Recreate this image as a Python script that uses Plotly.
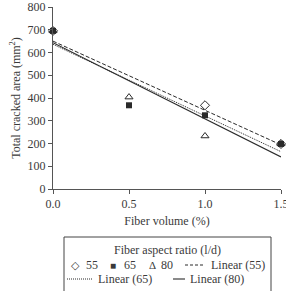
import plotly.graph_objects as go

# Data
fiber_volume = [0.0, 0.5, 1.0, 1.5]
area_55 = [695, None, 368, 198]
area_65 = [695, 368, 324, 198]
area_80 = [695, 404, 233, 198]
# trend-line values at x = 0 and x = 1.5
trend_x = [0.0, 1.5]
lin_55 = [650, 194]
lin_65 = [636, 164]
lin_80 = [643, 141]

FONT = "Liberation Serif, Times New Roman, serif"
TXT = "#3a3a3a"
INK = "#2a2a2a"

W, H = 286, 291
L, R, T, B = 53, 5, 7, 102
PW, PH = W - L - R, H - T - B

def px(x):
    return (x - L) / PW

def py(y):
    return (H - B - y) / PH

fig = go.Figure()
fig.add_trace(go.Scatter(x=trend_x, y=lin_55, mode="lines",
                         line=dict(color=INK, width=1, dash="4px,2px")))
fig.add_trace(go.Scatter(x=trend_x, y=lin_65, mode="lines",
                         line=dict(color=INK, width=1, dash="1px,1px")))
fig.add_trace(go.Scatter(x=trend_x, y=lin_80, mode="lines",
                         line=dict(color=INK, width=1.1)))
fig.add_trace(go.Scatter(x=fiber_volume, y=area_80, mode="markers",
                         marker=dict(symbol="triangle-up-open", size=7, color=INK, line=dict(width=1, color=INK)),
                         cliponaxis=False))
fig.add_trace(go.Scatter(x=fiber_volume, y=area_65, mode="markers",
                         marker=dict(symbol="square", size=6, color=INK, line=dict(width=0)),
                         cliponaxis=False))
fig.add_trace(go.Scatter(x=fiber_volume, y=area_55, mode="markers",
                         marker=dict(symbol="diamond-open", size=7, color=INK, line=dict(width=1, color=INK)),
                         cliponaxis=False))

axis_common = dict(showgrid=False, zeroline=False, showline=True, linecolor="#555",
                   linewidth=1, ticks="outside", ticklen=4, tickcolor="#555",
                   tickfont=dict(family=FONT, size=12, color=TXT),
                   ticklabeloverflow="allow", automargin=False)

fig.update_xaxes(range=[0, 1.5], tickvals=[0, 0.5, 1.0, 1.5],
                 ticktext=["0.0", "0.5", "1.0", "1.5"],
                 title=dict(text="Fiber volume (%)", font=dict(family=FONT, size=12, color=TXT), standoff=6),
                 **axis_common)
fig.update_yaxes(range=[0, 800], tickvals=list(range(0, 801, 100)),
                 title=dict(text="Total cracked area (mm<sup>2</sup>)", font=dict(family=FONT, size=12, color=TXT), standoff=4),
                 **axis_common)

# Manual legend
shapes = [dict(type="rect", xref="paper", yref="paper",
               x0=px(64), x1=px(271), y0=py(300), y1=py(237),
               line=dict(color="#444", width=1), fillcolor="rgba(0,0,0,0)")]
shapes.append(dict(type="line", xref="paper", yref="paper", x0=px(185), x1=px(205), y0=py(265), y1=py(265),
                   line=dict(color=INK, width=1, dash="3px,2px")))
shapes.append(dict(type="line", xref="paper", yref="paper", x0=px(67), x1=px(92), y0=py(279), y1=py(279),
                   line=dict(color=INK, width=1, dash="1px,1px")))
shapes.append(dict(type="line", xref="paper", yref="paper", x0=px(173), x1=px(185), y0=py(279), y1=py(279),
                   line=dict(color=INK, width=1.1)))

def ann(x, y, text, anchor="left", size=12):
    return dict(x=px(x), y=py(y), xref="paper", yref="paper", text=text, showarrow=False,
                xanchor=anchor, yanchor="middle", font=dict(family=FONT, size=size, color=TXT))

annotations = [
    ann(167.5, 250, "Fiber aspect ratio (l/d)", "center"),
    ann(75, 265, "◇", "center", 11),
    ann(92, 265, "55", "center"),
    ann(113, 265, "■", "center", 10),
    ann(130, 265, "65", "center"),
    ann(152, 265, "Δ", "center", 11),
    ann(167, 265, "80", "center"),
    ann(209, 265, "Linear (55)"),
    ann(96, 279, "Linear (65)"),
    ann(188, 279, "Linear (80)"),
]

fig.update_layout(width=W, height=H, margin=dict(l=L, r=R, t=T, b=B),
                  plot_bgcolor="white", paper_bgcolor="white", showlegend=False,
                  shapes=shapes, annotations=annotations,
                  font=dict(family=FONT, size=12, color=TXT))

fig.write_html("out.html")
